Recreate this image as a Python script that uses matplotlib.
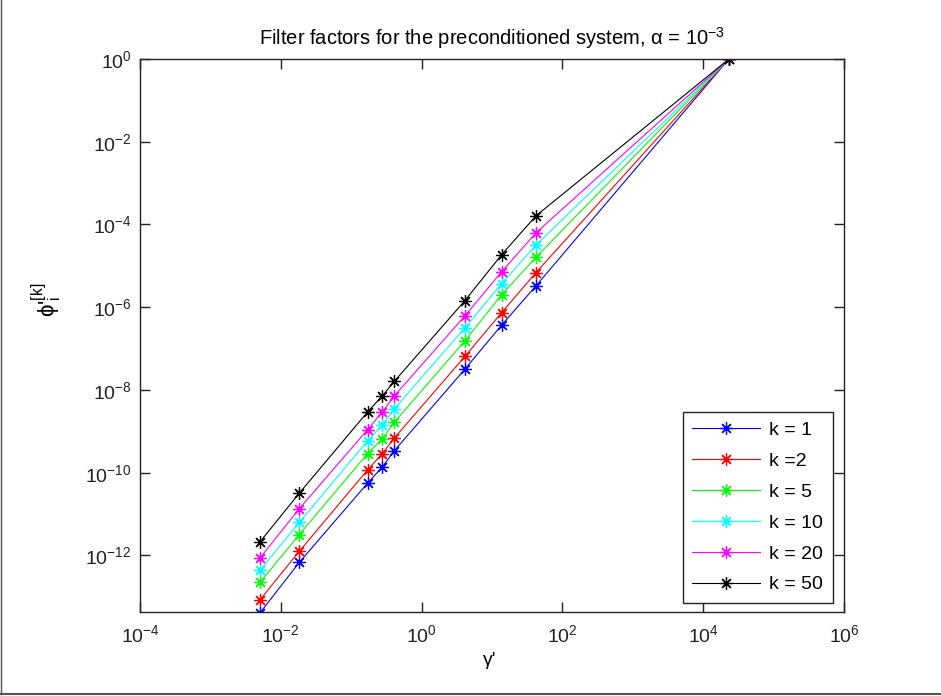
import numpy as np
import matplotlib
matplotlib.use("Agg")
import matplotlib.pyplot as plt
from matplotlib.lines import Line2D

# gamma' values (x) and filter factors phi'_i^[k]
gamma = [5.07e-3, 1.83e-2, 0.171, 0.277, 0.41, 4.13, 13.7, 42.2, 2.32e4]

phi_k1 = [4.1e-14, 6.8e-13, 5.6e-11, 1.38e-10, 3.4e-10, 3.2e-8, 3.7e-7, 3.3e-6, 1.0]
phi_k2 = [8.5e-14, 1.26e-12, 1.17e-10, 2.9e-10, 6.9e-10, 6.5e-8, 7.4e-7, 6.9e-6, 1.0]
phi_k5 = [2.24e-13, 3.2e-12, 2.9e-10, 6.6e-10, 1.66e-9, 1.55e-7, 2.0e-6, 1.62e-5, 1.0]
phi_k10 = [4.4e-13, 6.3e-12, 5.9e-10, 1.45e-9, 3.5e-9, 3.2e-7, 3.7e-6, 3.2e-5, 1.0]
phi_k20 = [8.7e-13, 1.35e-11, 1.10e-9, 2.95e-9, 7.2e-9, 6.2e-7, 7.2e-6, 6.3e-5, 1.0]
phi_k50 = [2.14e-12, 3.2e-11, 2.95e-9, 7.2e-9, 1.62e-8, 1.45e-6, 1.86e-5, 1.62e-4, 1.0]

labels = ["k = 1", "k =2", "k = 5", "k = 10", "k = 20", "k = 50"]
series = [phi_k1, phi_k2, phi_k5, phi_k10, phi_k20, phi_k50]
colors = ["#0000ff", "#ff0000", "#00ff00", "#00ffff", "#ff00ff", "#000000"]

xticks = [1e-4, 1e-2, 1e0, 1e2, 1e4, 1e6]
yticks = [1e-12, 1e-10, 1e-8, 1e-6, 1e-4, 1e-2, 1e0]

plt.rcParams["font.family"] = ["Liberation Sans", "DejaVu Sans"]
plt.rcParams["mathtext.fontset"] = "custom"
plt.rcParams["mathtext.rm"] = "Liberation Sans"
plt.rcParams["mathtext.it"] = "Liberation Sans"
plt.rcParams["mathtext.bf"] = "Liberation Sans:bold"

W, H = 941, 696
fig = plt.figure(figsize=(W / 100, H / 100), dpi=100)
ax = fig.add_axes([140 / W, 1 - 612 / H, 704 / W, 553 / H])

for phi, c, lab in zip(series, colors, labels):
    ax.loglog(gamma, phi, "-", color=c, lw=0.8, marker=(8, 2, 0),
              ms=9, mew=0.9, label=lab)

ax.set_xlim(1e-4, 1e6)
ax.set_ylim(4.3e-14, 1)
ax.set_xticks(xticks)
ax.set_yticks(yticks)
ax.minorticks_off()
ax.tick_params(direction="in", top=True, right=True, length=7, width=1,
               labelsize=14, colors="#222222")
ax.tick_params(axis="x", pad=9)
ax.tick_params(axis="y", pad=6)
for s in ax.spines.values():
    s.set_color("#222222")
    s.set_linewidth(1)

ax.set_title("Filter factors for the preconditioned system, α = $10^{-3}$",
             fontsize=14.5, pad=10)
ax.set_xlabel("γ'", fontsize=14)
ax.set_ylabel("ϕ'$_{i}^{[k]}$", fontsize=16)
ax.xaxis.set_label_coords((490 - 140) / 704, -(652 - 612) / 553)
ax.yaxis.set_label_coords((64 - 140) / 704, (612 - 300) / 553)

leg = ax.legend(loc="lower right", bbox_to_anchor=(0.984, 0.016),
                borderaxespad=0, fancybox=False, framealpha=1,
                edgecolor="#222222", fontsize=14, handlelength=3.5,
                handletextpad=0.45, labelspacing=0.68, borderpad=0.5)
leg.get_frame().set_linewidth(1)

# window frame on left and bottom
fig.add_artist(Line2D([0.5 / W, 0.5 / W], [2 / H, 1], color="#555555", lw=1))
fig.add_artist(Line2D([0, 1], [2 / H, 2 / H], color="#555555", lw=1.5))

fig.savefig("out.png", dpi=100, facecolor="white")
